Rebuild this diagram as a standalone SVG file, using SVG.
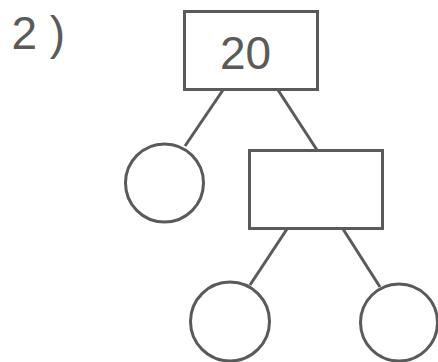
<svg xmlns="http://www.w3.org/2000/svg" width="438" height="362" viewBox="0 0 438 362">
  <style>
    .shape { fill: #ffffff; stroke: #5a5a5a; stroke-width: 3; }
    .edge { stroke: #5a5a5a; stroke-width: 3; fill: none; }
    .label { font-family: "Liberation Sans", Arial, sans-serif; font-size: 46px; fill: #5a5a5a; }
  </style>
  <rect width="438" height="362" fill="#ffffff"/>

  <text class="label" x="11.5" y="49">2 )</text>

  <!-- connectors -->
  <g id="connectors">
    <line class="edge" x1="223" y1="90" x2="185" y2="146"/>
    <line class="edge" x1="278" y1="90" x2="317" y2="150"/>
    <line class="edge" x1="287" y1="229" x2="250" y2="285"/>
    <line class="edge" x1="343" y1="229" x2="380" y2="287"/>
  </g>

  <g id="root">
    <rect class="shape" x="184.5" y="11.5" width="133" height="78"/>
    <text class="label" x="245.5" y="69" text-anchor="middle">20</text>
  </g>
  <g id="left-leaf">
    <circle class="shape" cx="164.5" cy="183" r="39"/>
  </g>
  <g id="middle">
    <rect class="shape" x="249.5" y="150.5" width="133" height="78"/>
  </g>
  <g id="bottom-left-leaf">
    <circle class="shape" cx="230" cy="321.5" r="39.5"/>
  </g>
  <g id="bottom-right-leaf">
    <circle class="shape" cx="399" cy="322.5" r="38.5"/>
  </g>
</svg>
